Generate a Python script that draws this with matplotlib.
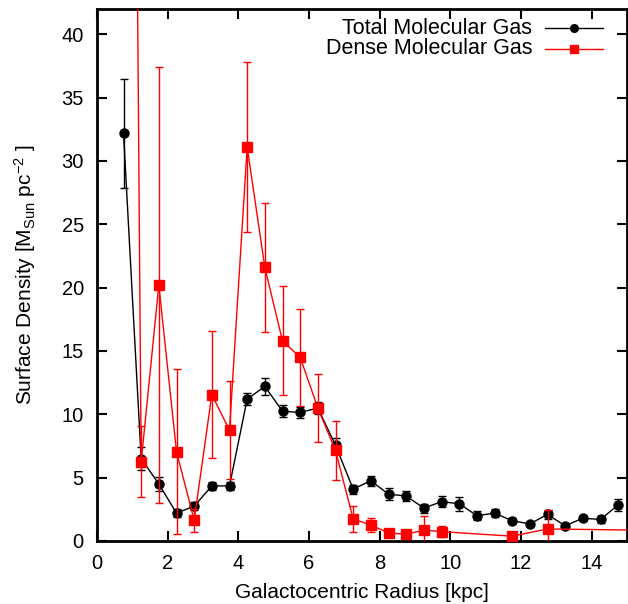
import numpy as np
import matplotlib
matplotlib.use("Agg")
import matplotlib.pyplot as plt
from matplotlib.lines import Line2D

plt.rcParams['font.family'] = ['Liberation Sans', 'DejaVu Sans']
plt.rcParams['mathtext.fontset'] = 'custom'
plt.rcParams['mathtext.rm'] = 'Liberation Sans'
plt.rcParams['mathtext.it'] = 'Liberation Sans'

# Radial bins (kpc)
radius_total = [0.75, 1.25, 1.75, 2.25, 2.75, 3.25, 3.75, 4.25, 4.75, 5.25,
                5.75, 6.25, 6.75, 7.25, 7.75, 8.25, 8.75, 9.25, 9.75, 10.25,
                10.75, 11.25, 11.75, 12.25, 12.75, 13.25, 13.75, 14.25, 14.75]
total_gas = [32.2, 6.5, 4.5, 2.2, 2.75, 4.35, 4.35, 11.2, 12.2, 10.25,
             10.15, 10.5, 7.55, 4.1, 4.75, 3.7, 3.55, 2.6, 3.1, 2.95,
             2.0, 2.2, 1.6, 1.35, 2.1, 1.2, 1.8, 1.7, 2.85]
total_err = [4.3, 0.9, 0.55, 0.3, 0.3, 0.3, 0.3, 0.5, 0.7, 0.45,
             0.4, 0.45, 0.55, 0.35, 0.4, 0.45, 0.4, 0.35, 0.45, 0.55,
             0.35, 0.3, 0.2, 0.15, 0.35, 0.15, 0.2, 0.25, 0.5]

radius_dense = [0.75, 1.25, 1.75, 2.25, 2.75, 3.25, 3.75, 4.25, 4.75, 5.25,
                5.75, 6.25, 6.75, 7.25, 7.75, 8.25, 8.75, 9.25, 9.75, 11.75,
                12.75, 15.25]
dense_gas = [185.0, 6.25, 20.2, 7.05, 1.65, 11.55, 8.75, 31.1, 21.6, 15.8,
             14.5, 10.5, 7.15, 1.75, 1.25, 0.65, 0.52, 0.87, 0.74, 0.38,
             0.95, 0.86]
dense_err = [60.0, 2.8, 17.2, 6.5, 0.9, 5.0, 3.85, 6.7, 5.1, 4.3,
             3.85, 2.7, 2.3, 1.0, 0.55, 0.3, 0.25, 1.1, 0.45, 0.1,
             1.5, 0.5]

W, H = 628, 604
fig = plt.figure(figsize=(W / 100, H / 100), dpi=100)
ax = fig.add_axes([97 / W, 1 - 541 / H, 530 / W, 532 / H])

ax.errorbar(radius_total, total_gas, yerr=total_err, color='black',
            lw=1.0, elinewidth=1.0, capsize=3, capthick=1.0,
            marker='o', markersize=6.5, zorder=3)
ax.errorbar(radius_dense, dense_gas, yerr=dense_err, color='#ff0000',
            lw=1.0, elinewidth=1.0, capsize=3, capthick=1.0,
            marker='s', markersize=6.5, zorder=4)

ax.set_xlim(0, 15)
ax.set_ylim(0, 42)
ax.set_xticks(np.arange(0, 15, 2))
ax.set_yticks(np.arange(0, 41, 5))
ax.tick_params(direction='in', length=7, width=1.5, top=True, right=True,
               labelsize=14.5, pad=9.5)
for s in ax.spines.values():
    s.set_linewidth(2.0)

ax.set_xlabel('Galactocentric Radius [kpc]', fontsize=15)
ax.set_ylabel(r'Surface Density [M$_{\rm Sun}$ pc$^{-2}$ ]', fontsize=15)
ax.xaxis.set_label_coords((362 - 97) / 530, (541 - 592) / 532)
ax.yaxis.set_label_coords((25 - 97) / 530, (541 - 275) / 532)
ax.xaxis.label.set_va('center')
ax.yaxis.label.set_va('center')

# Key in the upper right corner, text right-aligned next to line samples
key_rows = [('Total Molecular Gas', 'black', 'o', 28),
            ('Dense Molecular Gas', '#ff0000', 's', 49)]
for label, col, mk, ypix in key_rows:
    yf = 1 - ypix / H
    fig.text(532 / W, yf, label, ha='right', va='center', fontsize=15.5)
    fig.add_artist(Line2D([545 / W, 603 / W], [yf, yf], color=col, lw=1.0,
                          transform=fig.transFigure))
    fig.add_artist(Line2D([574 / W], [yf], color=col, marker=mk,
                          markersize=5.5, transform=fig.transFigure))

fig.savefig('out.png', dpi=100)
